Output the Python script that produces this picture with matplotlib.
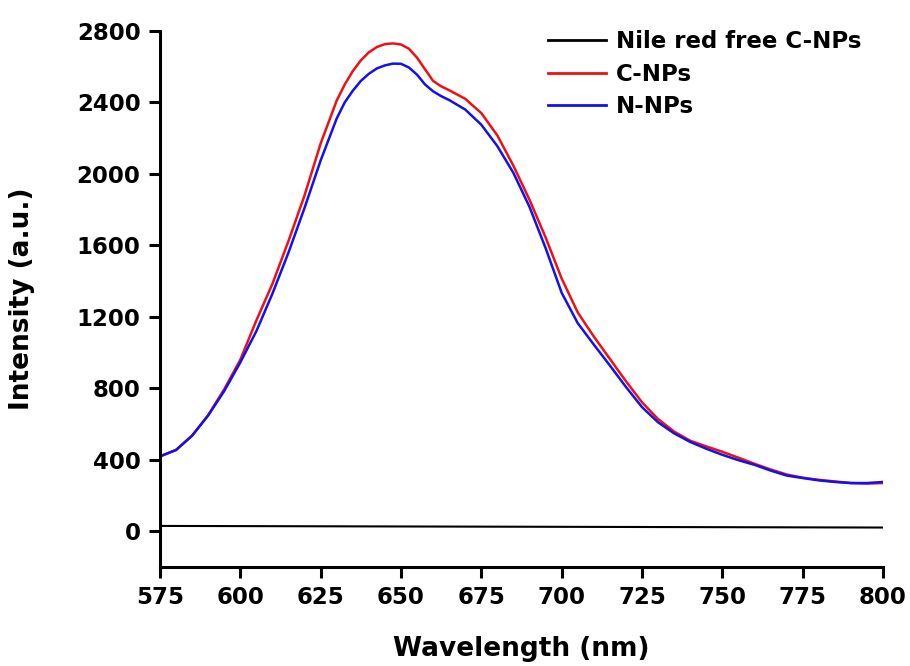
import numpy as np
import matplotlib
matplotlib.use('Agg')
import matplotlib.pyplot as plt

# wavelengths (nm), denser around the peak
wl = [575, 580, 585, 590, 595, 600, 605, 610, 615, 620, 625, 630, 632.5, 635, 637.5, 640,
      642.5, 645, 647.5, 650, 652.5, 655, 657.5, 660, 662.5, 665, 670, 675, 680, 685, 690,
      695, 700, 705, 710, 715, 720, 725, 730, 735, 740, 745, 750, 755, 760, 765, 770,
      775, 780, 785, 790, 795, 800]

c_nps = [419, 455, 535, 650, 795, 960, 1180, 1385, 1625, 1880, 2170, 2410, 2500, 2575, 2635, 2680,
         2710, 2726, 2730, 2724, 2700, 2650, 2585, 2520, 2490, 2468, 2420, 2340, 2215, 2045, 1855,
         1645, 1415, 1225, 1090, 965, 840, 722, 628, 558, 507, 475, 445, 412, 378, 346, 318,
         300, 288, 279, 270, 267, 270]

n_nps = [419, 455, 535, 648, 785, 945, 1120, 1330, 1560, 1810, 2075, 2310, 2400, 2465, 2520, 2560,
         2590, 2607, 2617, 2616, 2595, 2555, 2500, 2462, 2435, 2413, 2360, 2275, 2155, 2005, 1815,
         1585, 1335, 1165, 1045, 928, 808, 695, 610, 548, 500, 462, 428, 398, 372, 340, 312,
         298, 285, 276, 270, 270, 276]

wl_free = [575, 600, 625, 650, 675, 700, 725, 750, 775, 800]
free = [30, 29, 28, 27, 26, 25, 24, 23, 22, 21]

fig = plt.figure(figsize=(9.1, 6.66), dpi=100)
ax = fig.add_axes([0.1758, 0.1486, 0.7945, 0.805])

ax.plot(wl_free, free, color='black', lw=1.5, label='Nile red free C-NPs')
ax.plot(wl, c_nps, color='#ee1111', lw=1.8, label='C-NPs')
ax.plot(wl, n_nps, color='#1111ee', lw=1.8, label='N-NPs')

ax.set_xlim(575, 800)
ax.set_ylim(-200, 2800)
ax.set_xticks(np.arange(575, 801, 25))
ax.set_yticks(np.arange(0, 2801, 400))

for s in ['top', 'right']:
    ax.spines[s].set_visible(False)
for s in ['left', 'bottom']:
    ax.spines[s].set_linewidth(2.2)

ax.tick_params(direction='out', length=8, width=2.2, labelsize=16.5, pad=6)
for lab in ax.get_xticklabels() + ax.get_yticklabels():
    lab.set_fontweight('bold')

ax.set_xlabel('Wavelength (nm)', fontsize=19, fontweight='bold', labelpad=19)
ax.set_ylabel('Intensity (a.u.)', fontsize=19, fontweight='bold', labelpad=30)

leg = ax.legend(loc='upper left', bbox_to_anchor=(548 / 910, 1 - 30 / 666),
                bbox_transform=fig.transFigure, frameon=False, borderpad=0,
                borderaxespad=0, handlelength=2.55, handletextpad=0.4,
                labelspacing=0.42, prop={'size': 16.5, 'weight': 'bold'})
for line in leg.get_lines():
    line.set_linewidth(2)

fig.savefig('out.png', dpi=100)
